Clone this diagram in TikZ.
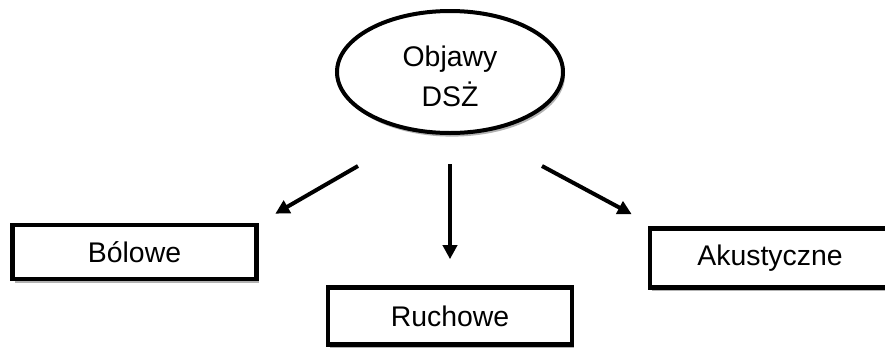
\documentclass[tikz,border=0pt]{standalone}
\usepackage{fontspec}
\setmainfont{Liberation Sans}
\usetikzlibrary{positioning, arrows.meta, shapes.geometric, shadows, calc}

\begin{document}
\begin{tikzpicture}[x=0.5pt, y=-0.5pt,
    every node/.style={font=\fontsize{14.2}{20}\selectfont},
    boxnode/.style={draw, line width=2.3pt, fill=white, minimum width=122pt, inner sep=0pt,
        drop shadow={shadow xshift=1pt, shadow yshift=-1.8pt, fill=black!60, opacity=0.5}},
    link/.style={line width=2pt, -{Triangle[length=7pt, width=7pt]}}]
    \useasboundingbox (0,0) rectangle (885,349);
    \clip (0,0) rectangle (885,349);
    \node[ellipse, draw, line width=2pt, fill=white, minimum width=113pt, minimum height=61pt, inner sep=0pt, align=center,
        drop shadow={shadow xshift=1pt, shadow yshift=-1.8pt, fill=black!60, opacity=0.5}] (dsz) at (450,72) {\rule{0pt}{15pt}Objawy\\DSŻ};
    \node[boxnode, minimum height=27pt] (bol) at (134.5,252) {Bólowe};
    \node[boxnode, minimum height=28.5pt] (ruch) at (450,316) {Ruchowe};
    \node[boxnode, minimum width=120pt, minimum height=29.5pt] (aku) at (770,258) {Akustyczne};
    \draw[link] ($(dsz.south)+(-92,31)$) -- ($(bol.north east)+(16.5,-9)$);
    \draw[link] ($(dsz.south)+(0,29)$) -- ($(ruch.north)+(0,-26)$);
    \draw[link] ($(dsz.south)+(92,31)$) -- ($(aku.north west)+(-16,-12)$);
\end{tikzpicture}
\end{document}
